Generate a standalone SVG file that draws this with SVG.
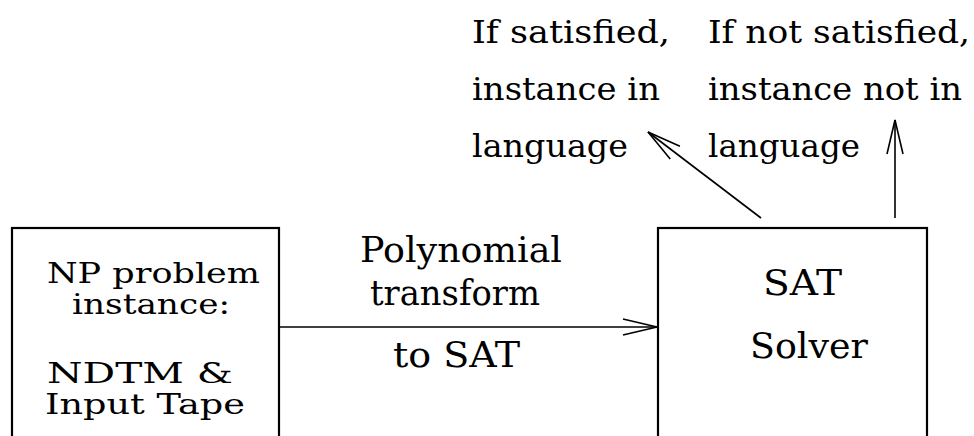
<svg xmlns="http://www.w3.org/2000/svg" width="974" height="436" viewBox="0 0 974 436">
<style>
.box{fill:#fff;stroke:#000;stroke-width:2.2}
.ln{fill:none;stroke:#000;stroke-width:1.6}
.t{font-family:'DejaVu Serif','Liberation Serif',serif;font-size:36px;fill:#000}
.s{font-size:27px}
.u{font-size:32px}
</style>
<defs>
<marker id="ah" markerUnits="userSpaceOnUse" markerWidth="40" markerHeight="24" viewBox="-36 -12 40 24" refX="0" refY="0" orient="auto">
<path d="M-34,-8 L0,0 L-34,8" fill="none" stroke="#000" stroke-width="1.6"/>
</marker>
</defs>
<rect width="974" height="436" fill="#fff"/>
<g id="np">
<rect class="box" x="12" y="228" width="267" height="220"/>
<text class="t s" x="47" y="283" textLength="213" lengthAdjust="spacingAndGlyphs">NP problem</text>
<text class="t s" x="72" y="314" textLength="158" lengthAdjust="spacingAndGlyphs">instance:</text>
<text class="t s" x="47" y="383" textLength="186" lengthAdjust="spacingAndGlyphs">NDTM &amp;</text>
<text class="t s" x="45" y="414" textLength="200" lengthAdjust="spacingAndGlyphs">Input Tape</text>
</g>
<g id="sat">
<rect class="box" x="658" y="228" width="269" height="220"/>
<text class="t" x="763" y="295" textLength="79" lengthAdjust="spacingAndGlyphs">SAT</text>
<text class="t" x="750" y="358" textLength="118" lengthAdjust="spacingAndGlyphs">Solver</text>
</g>
<g id="yes">
<text class="t u" x="472" y="43" textLength="198" lengthAdjust="spacingAndGlyphs">If satisfied,</text>
<text class="t u" x="472" y="100" textLength="188" lengthAdjust="spacingAndGlyphs">instance in</text>
<text class="t u" x="472" y="157" textLength="156" lengthAdjust="spacingAndGlyphs">language</text>
</g>
<g id="no">
<text class="t u" x="708" y="43" textLength="262" lengthAdjust="spacingAndGlyphs">If not satisfied,</text>
<text class="t u" x="708" y="100" textLength="254" lengthAdjust="spacingAndGlyphs">instance not in</text>
<text class="t u" x="708" y="157" textLength="152" lengthAdjust="spacingAndGlyphs">language</text>
</g>
<g id="connectors">
<line class="ln" x1="279" y1="327" x2="657" y2="327" marker-end="url(#ah)"/>
<line class="ln" x1="761" y1="218" x2="648" y2="132" marker-end="url(#ah)"/>
<line class="ln" x1="895" y1="218" x2="895" y2="120" marker-end="url(#ah)"/>
<text class="t" x="360" y="262" textLength="202" lengthAdjust="spacingAndGlyphs">Polynomial</text>
<text class="t" x="370" y="305" textLength="170" lengthAdjust="spacingAndGlyphs">transform</text>
<text class="t" x="393" y="367" textLength="127" lengthAdjust="spacingAndGlyphs">to SAT</text>
</g>
</svg>
